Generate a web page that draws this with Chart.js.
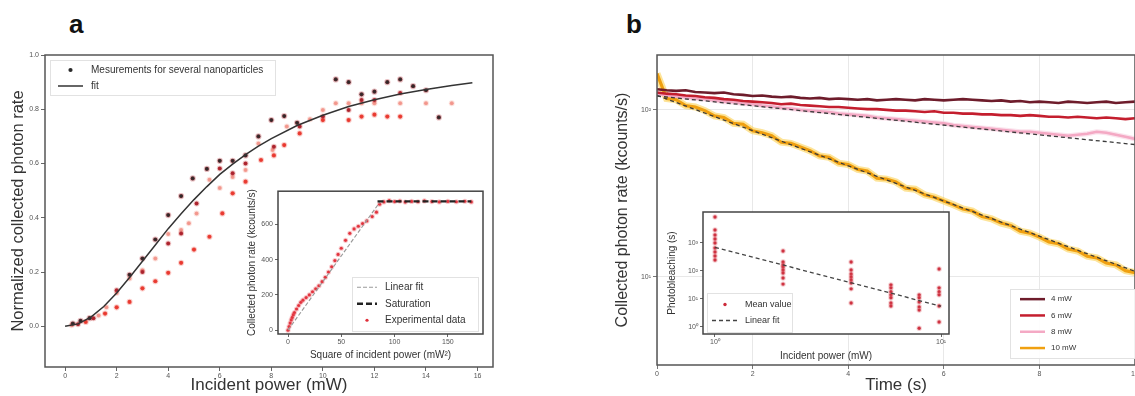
<!DOCTYPE html>
<html>
<head>
<meta charset="utf-8">
<script src="https://cdn.jsdelivr.net/npm/chart.js@4.4.0/dist/chart.umd.min.js"></script>
<style>
  html, body { margin: 0; padding: 0; background: #fff; overflow: hidden; width: 1135px; height: 396px; }
  canvas { position: absolute; }
  .panel { position: absolute; font: bold 26px "Liberation Sans", Arial, sans-serif; line-height: 26px; color: #111; }
</style>
</head>
<body>
<div class="panel" style="left:69px;top:11px">a</div>
<div class="panel" style="left:626px;top:11px">b</div>
<canvas id="mainA" style="left:0;top:0" width="560" height="396"></canvas>
<canvas id="insetA" style="left:240px;top:185px" width="250" height="180"></canvas>
<canvas id="mainB" style="left:600px;top:0" width="560" height="396"></canvas>
<canvas id="insetB" style="left:660px;top:205px" width="295" height="160"></canvas>
<script>
// ---- panel a: normalized rate vs incident power (one series per nanoparticle)
const blackX = [0.3, 0.6, 0.95, 2.5, 3.0, 3.5, 4.0, 4.5, 4.95, 5.5, 6.0, 6.5, 7.0, 7.5, 8.0, 8.5, 9.0, 10.5, 11.0, 11.5, 12.0, 12.5, 13.0, 13.5, 14.0, 14.5];
const blackY = [0.01, 0.02, 0.03, 0.19, 0.25, 0.32, 0.41, 0.48, 0.545, 0.58, 0.61, 0.61, 0.63, 0.70, 0.76, 0.775, 0.75, 0.91, 0.90, 0.855, 0.865, 0.90, 0.91, 0.885, 0.87, 0.77];
const darkX = [0.5, 1.1, 2.0, 3.0, 4.0, 4.5, 5.1, 6.0, 6.5, 7.0, 8.1, 9.1, 10.0, 11.0, 11.5, 12.0, 13.0];
const darkY = [0.008, 0.03, 0.133, 0.20, 0.305, 0.342, 0.453, 0.582, 0.564, 0.60, 0.662, 0.736, 0.773, 0.797, 0.834, 0.834, 0.86];
const redX = [0.8, 1.55, 2.0, 2.5, 3.0, 3.5, 4.0, 4.5, 5.0, 5.6, 6.1, 6.5, 7.0, 7.6, 8.1, 8.5, 9.1, 10.0, 11.0, 11.5, 12.0, 12.5, 13.0];
const redY = [0.016, 0.047, 0.07, 0.09, 0.14, 0.166, 0.197, 0.234, 0.283, 0.33, 0.416, 0.49, 0.533, 0.613, 0.63, 0.668, 0.711, 0.76, 0.76, 0.773, 0.78, 0.773, 0.773];
const pinkX = [0.25, 1.3, 1.6, 2.0, 2.5, 3.0, 3.5, 4.0, 4.5, 4.8, 5.1, 5.6, 6.0, 6.5, 7.0, 7.5, 8.05, 8.6, 9.5, 10.0, 10.5, 11.0, 11.5, 12.0, 13.0, 14.0, 15.0];
const pinkY = [0.004, 0.04, 0.07, 0.123, 0.176, 0.207, 0.25, 0.34, 0.355, 0.38, 0.416, 0.54, 0.51, 0.55, 0.576, 0.674, 0.65, 0.736, 0.763, 0.797, 0.822, 0.822, 0.822, 0.822, 0.822, 0.822, 0.822];
const fitX = [0, 0.5, 1, 1.5, 2, 2.5, 3, 3.5, 4, 4.5, 5, 5.5, 6, 6.5, 7, 7.5, 8, 9, 10, 11, 12, 13, 14, 15, 15.8];
const fitY = [0, 0.009, 0.034, 0.073, 0.123, 0.18, 0.24, 0.30, 0.36, 0.415, 0.467, 0.515, 0.56, 0.598, 0.633, 0.664, 0.692, 0.74, 0.778, 0.81, 0.835, 0.856, 0.873, 0.888, 0.898];
const powerTicks = [0, 2, 4, 6, 8, 10, 12, 14, 16];
const rateTicks = [0, 0.2, 0.4, 0.6, 0.8, 1.0];

// ---- inset a: rate vs squared power
const sqX = [0, 1, 2, 3, 4, 5, 6, 8, 10, 12, 14, 17, 20, 23, 26, 29, 32, 35, 38, 41, 44, 47, 50, 54, 58, 62, 66, 70, 74, 79, 83, 86,
             90, 95, 100, 105, 110, 116, 122, 128, 135, 142, 150, 158, 166, 172];
const sqY = [0, 20, 40, 58, 72, 88, 100, 120, 140, 158, 170, 185, 200, 218, 235, 252, 275, 300, 330, 360, 395, 430, 465, 510, 550, 575, 590, 605, 620, 645, 670, 715,
             728, 735, 730, 733, 727, 731, 729, 734, 730, 728, 731, 729, 732, 728];
const linFitX = [0, 86];
const linFitY = [0, 725];
const satX = [84, 172];
const satY = [731, 731];
const sqTicksX = [0, 50, 100, 150];
const sqTicksY = [0, 200, 400, 600];

// ---- panel b: photon rate vs time (kcounts/s)
const times = [0, 0.2, 0.4, 0.6, 0.8, 1, 1.2, 1.4, 1.6, 1.8, 2, 2.2, 2.4, 2.6, 2.8, 3, 3.2, 3.4, 3.6, 3.8, 4, 4.2, 4.4, 4.6, 4.8, 5,
               5.2, 5.4, 5.6, 5.8, 6, 6.2, 6.4, 6.6, 6.8, 7, 7.2, 7.4, 7.6, 7.8, 8, 8.2, 8.4, 8.6, 8.8, 9, 9.2, 9.4, 9.6, 9.8, 10];
const mw4 = [133, 131, 130, 131, 128, 127, 126, 127, 124, 123, 121, 122, 120, 119, 120, 118, 117, 118, 116, 117, 116, 115, 116, 114, 115, 116,
             115, 114, 116, 115, 114, 115, 116, 115, 114, 113, 114, 112, 113, 111, 112, 111, 110, 112, 111, 110, 111, 112, 110, 111, 112];
const mw6 = [127, 125, 124, 122, 121, 119, 118, 116, 115, 113, 112, 111, 110, 108, 109, 107, 106, 105, 104, 104, 103, 102, 101, 101, 100, 99,
             99, 98, 97, 98, 96, 96, 95, 95, 94, 94, 93, 93, 92, 93, 92, 91, 91, 90, 91, 90, 89, 90, 89, 88, 89];
const mw8 = [125, 122, 120, 119, 117, 116, 114, 112, 111, 109, 108, 106, 105, 103, 102, 100, 99, 98, 97, 95, 94, 93, 92, 90, 89, 88,
             87, 86, 85, 84, 83, 81, 80, 79, 78, 77, 76, 75, 74, 74, 73, 72, 71, 70, 71, 72, 74, 73, 71, 69, 67];
const mw10 = [165, 117, 115, 106, 104, 99, 92, 90, 83, 82, 75, 73, 70, 64, 63, 60, 57, 53, 52, 48, 47, 44, 43, 39, 38.5, 37,
              34, 33.5, 31, 30, 28.5, 27, 25.5, 24.8, 23, 22.3, 21, 20.3, 18.8, 18.3, 17.3, 16.2, 15.8, 14.7, 14.3, 13.3, 13.0, 12.1, 11.8, 10.9, 10.6];
const fitEndsT = [0, 10];
const fit8 = [121, 62];
const fit10 = [122, 10.8];
const timeTicks = [0, 2, 4, 6, 8, 10];
const photonTicks = [10, 100];

// ---- inset b: photobleaching time vs power (log-log)
const bleachP = [1, 1, 1, 1, 1, 1, 1, 1, 1,
                 2, 2, 2, 2, 2, 2, 2, 2,
                 4, 4, 4, 4, 4, 4, 4, 4,
                 6, 6, 6, 6, 6, 6, 6,
                 8, 8, 8, 8, 8, 8,
                 9.8, 9.8, 9.8, 9.8, 9.8, 9.8];
const bleachT = [8500, 2900, 1930, 1390, 1000, 660, 477, 343, 247,
                 518, 210, 164, 139, 109, 85, 56, 34,
                 210, 109, 78, 61, 48, 37, 23, 7.2,
                 32, 25, 18, 14, 11, 7.2, 5.6,
                 14, 11, 7.8, 5.2, 4.0, 0.9,
                 118, 25, 18, 14, 5.6, 1.5];
const bleachFitP = [1, 10];
const bleachFitT = [700, 5.5];
const bleachTicksX = [1, 10];
const bleachTicksY = [1, 10, 100, 1000];

const FONT = '"Liberation Sans", Arial, sans-serif';
Chart.defaults.font.family = FONT;
Chart.defaults.animation = false;
Chart.defaults.responsive = false;
Chart.defaults.plugins.legend.display = false;
Chart.defaults.plugins.tooltip.enabled = false;

const SUP = {'0': '\u2070', '1': '\u00b9', '2': '\u00b2', '3': '\u00b3', '4': '\u2074'};
const pow10 = v => '10' + SUP[String(Math.round(Math.log10(v)))];
const pts = (xs, ys) => xs.map((x, i) => ({x: x, y: ys[i]}));
const fixed = vals => scale => { scale.ticks = vals.map(v => ({value: v})); };

// frame around plot area (+ white fill for insets)
const frame = {
  id: 'frame',
  beforeDraw(chart, args, o) {
    if (!o.fill) return;
    const a = chart.chartArea, ctx = chart.ctx;
    ctx.save();
    ctx.fillStyle = o.fill;
    ctx.fillRect(a.left, a.top, a.width, a.height);
    ctx.restore();
  },
  afterDraw(chart, args, o) {
    const a = chart.chartArea, ctx = chart.ctx;
    ctx.save();
    ctx.strokeStyle = o.color || '#555';
    ctx.lineWidth = o.width || 1.5;
    ctx.strokeRect(a.left, a.top, a.width, a.height);
    ctx.restore();
  }
};

// boxed legend drawn from the datasets' own styles
const boxLegend = {
  id: 'boxLegend',
  afterDraw(chart, args, o) {
    if (!o.items) return;
    const a = chart.chartArea, ctx = chart.ctx;
    const x0 = o.right != null ? a.right - o.right - o.w : a.left + o.left;
    const y0 = o.bottom != null ? a.bottom - o.bottom - o.h : a.top + o.top;
    ctx.save();
    ctx.fillStyle = 'rgba(255,255,255,0.9)';
    ctx.fillRect(x0, y0, o.w, o.h);
    ctx.strokeStyle = '#e2e2e2';
    ctx.lineWidth = 1;
    ctx.strokeRect(x0 + 0.5, y0 + 0.5, o.w, o.h);
    ctx.font = o.size + 'px ' + FONT;
    ctx.textBaseline = 'middle';
    o.items.forEach((idx, i) => {
      const ds = chart.data.datasets[idx];
      const y = y0 + o.padY + o.row * (i + 0.5);
      const lx = x0 + o.padX;
      if (ds.showLine) {
        ctx.strokeStyle = ds.borderColor;
        ctx.lineWidth = Math.min(ds.borderWidth, 2.5);
        ctx.setLineDash(ds.borderDash || []);
        ctx.beginPath();
        ctx.moveTo(lx, y);
        ctx.lineTo(lx + o.line, y);
        ctx.stroke();
        ctx.setLineDash([]);
      } else {
        ctx.fillStyle = ds.backgroundColor;
        ctx.beginPath();
        ctx.arc(lx + o.line / 2, y, ds.pointRadius, 0, Math.PI * 2);
        ctx.fill();
      }
      ctx.fillStyle = '#333';
      ctx.fillText(ds.label, lx + o.line + o.gap, y);
    });
    ctx.restore();
  }
};

const dots = (label, data, color, halo, r) => ({
  label: label, data: data, showLine: false,
  backgroundColor: color, borderColor: halo, borderWidth: 2, pointRadius: r, pointStyle: 'circle'
});
const tickFont = {size: 7};
const axisGrid = {drawOnChartArea: false, tickLength: 4, tickColor: '#666'};

// ---------- panel a
new Chart(document.getElementById('mainA'), {
  type: 'scatter',
  data: {
    datasets: [
      dots('Mesurements for several nanoparticles', pts(blackX, blackY), '#2a2a2a', 'rgba(180,40,50,0.3)', 2.1),
      {label: 'fit', data: pts(fitX, fitY), showLine: true, pointRadius: 0, borderColor: '#333', borderWidth: 1.5, order: -1},
      dots('np2', pts(darkX, darkY), '#a8222e', 'rgba(200,60,60,0.28)', 2.0),
      dots('np3', pts(redX, redY), '#e8382f', 'rgba(240,90,80,0.28)', 2.1),
      dots('np4', pts(pinkX, pinkY), '#f2958c', 'rgba(245,170,160,0.32)', 2.0)
    ]
  },
  options: {
    layout: {padding: {left: 0, top: 55, right: 67, bottom: 0}},
    scales: {
      x: {
        type: 'linear', min: -0.78, max: 16.6,
        afterBuildTicks: fixed(powerTicks), afterFit: s => { s.height = 29; },
        grid: axisGrid, border: {display: false},
        ticks: {font: tickFont, color: '#555', padding: 1, maxRotation: 0},
        title: {display: true, text: 'Incident power (mW)', font: {size: 17}, color: '#333', padding: {top: 0, bottom: 0}}
      },
      y: {
        type: 'linear', min: -0.15, max: 1.0,
        afterBuildTicks: fixed(rateTicks), afterFit: s => { s.width = 45; },
        grid: axisGrid, border: {display: false},
        ticks: {font: tickFont, color: '#555', padding: 2, callback: v => v.toFixed(1)},
        title: {display: true, text: 'Normalized collected photon rate', font: {size: 16.5}, color: '#333', padding: {top: 9, bottom: 0}}
      }
    },
    plugins: {
      frame: {color: '#555', width: 1.5},
      boxLegend: {items: [0, 1], left: 5, top: 5, w: 225, h: 35, padX: 8, padY: 2, row: 16, line: 25, gap: 8, size: 10}
    }
  },
  plugins: [frame, boxLegend]
});

new Chart(document.getElementById('insetA'), {
  type: 'scatter',
  data: {
    datasets: [
      {label: 'Linear fit', data: pts(linFitX, linFitY), showLine: true, pointRadius: 0, borderColor: '#9a9a9a', borderWidth: 1.2, borderDash: [4, 2], order: -1},
      {label: 'Saturation', data: pts(satX, satY), showLine: true, pointRadius: 0, borderColor: '#222', borderWidth: 2.4, borderDash: [6, 3], order: -2},
      dots('Experimental data', pts(sqX, sqY), '#e0303a', 'rgba(235,80,90,0.3)', 1.6)
    ]
  },
  options: {
    layout: {padding: {left: 0, top: 5, right: 7, bottom: 0}},
    scales: {
      x: {
        type: 'linear', min: -9.4, max: 183,
        afterBuildTicks: fixed(sqTicksX), afterFit: s => { s.height = 31; },
        grid: {drawOnChartArea: false, tickLength: 3, tickColor: '#666'}, border: {display: false},
        ticks: {font: tickFont, color: '#555', padding: 1, maxRotation: 0},
        title: {display: true, text: 'Square of incident power (mW\u00b2)', font: {size: 10}, color: '#333', padding: {top: 0, bottom: 4}}
      },
      y: {
        type: 'linear', min: -22, max: 789,
        afterBuildTicks: fixed(sqTicksY), afterFit: s => { s.width = 38; },
        grid: {drawOnChartArea: false, tickLength: 3, tickColor: '#666'}, border: {display: false},
        ticks: {font: tickFont, color: '#555', padding: 2},
        title: {display: true, text: 'Collected photon rate (kcounts/s)', font: {size: 10}, color: '#333', padding: {top: 6, bottom: 0}}
      }
    },
    plugins: {
      frame: {color: '#444', width: 1.5, fill: '#fff'},
      boxLegend: {items: [0, 1, 2], right: 5, bottom: 3, w: 126, h: 54, padX: 5, padY: 2, row: 16.5, line: 20, gap: 8, size: 10}
    }
  },
  plugins: [frame, boxLegend]
});

// ---------- panel b
const trace = (label, ys, color, w, order) => ({
  label: label, data: pts(times, ys), showLine: true, pointRadius: 0,
  borderColor: color, borderWidth: w, order: order
});
const glow = (ys, color, w) => ({
  label: 'glow', data: pts(times, ys), showLine: true, pointRadius: 0,
  borderColor: color, borderWidth: w, order: 9
});
const fitLine = (ys) => ({
  label: 'fit', data: pts(fitEndsT, ys), showLine: true, pointRadius: 0,
  borderColor: '#3a3a3a', borderWidth: 1.3, borderDash: [4, 3], order: 0
});

new Chart(document.getElementById('mainB'), {
  type: 'scatter',
  data: {
    datasets: [
      trace('4 mW', mw4, '#6e1c2b', 2.6, 2),
      trace('6 mW', mw6, '#c41e2e', 2.6, 3),
      trace('8 mW', mw8, '#f4a9c4', 2.6, 4),
      trace('10 mW', mw10, '#f0a010', 3.2, 5),
      fitLine(fit8),
      fitLine(fit10),
      glow(mw10, 'rgba(252,205,70,0.55)', 7),
      glow(mw8, 'rgba(248,200,220,0.5)', 5)
    ]
  },
  options: {
    layout: {padding: {left: 0, top: 55, right: 25, bottom: 0}},
    scales: {
      x: {
        type: 'linear', min: 0, max: 10,
        afterBuildTicks: fixed(timeTicks), afterFit: s => { s.height = 31; },
        grid: {color: '#e8e8e8', tickLength: 4, tickColor: '#777'}, border: {display: false},
        ticks: {font: tickFont, color: '#555', padding: 1, maxRotation: 0},
        title: {display: true, text: 'Time (s)', font: {size: 17}, color: '#333', padding: {top: 0, bottom: 0}}
      },
      y: {
        type: 'logarithmic', min: 2.97, max: 213,
        afterBuildTicks: fixed(photonTicks), afterFit: s => { s.width = 57; },
        grid: {color: '#e8e8e8', tickLength: 4, tickColor: '#777'}, border: {display: false},
        ticks: {font: tickFont, color: '#555', padding: 2, callback: v => pow10(v)},
        title: {display: true, text: 'Collected photon rate (kcounts/s)', font: {size: 16}, color: '#333', padding: {top: 13, bottom: 0}}
      }
    },
    plugins: {
      frame: {color: '#555', width: 1.5},
      boxLegend: {items: [0, 1, 2, 3], right: 0, bottom: 7, w: 125, h: 69, padX: 10, padY: 2, row: 16.3, line: 25, gap: 6, size: 8}
    }
  },
  plugins: [frame, boxLegend]
});

new Chart(document.getElementById('insetB'), {
  type: 'scatter',
  data: {
    datasets: [
      dots('Mean value', pts(bleachP, bleachT), '#cc2a3a', 'rgba(220,90,100,0.3)', 1.7),
      {label: 'Linear fit', data: pts(bleachFitP, bleachFitT), showLine: true, pointRadius: 0, borderColor: '#444', borderWidth: 1.3, borderDash: [4, 3], order: -1}
    ]
  },
  options: {
    layout: {padding: {left: 0, top: 7, right: 5, bottom: 0}},
    scales: {
      x: {
        type: 'logarithmic', min: 0.885, max: 10.84,
        afterBuildTicks: fixed(bleachTicksX), afterFit: s => { s.height = 31; },
        grid: {drawOnChartArea: false, tickLength: 3, tickColor: '#666'}, border: {display: false},
        ticks: {font: tickFont, color: '#555', padding: 1, maxRotation: 0, callback: v => pow10(v)},
        title: {display: true, text: 'Incident power (mW)', font: {size: 10}, color: '#333', padding: {top: 0, bottom: 3}}
      },
      y: {
        type: 'logarithmic', min: 0.56, max: 12800,
        afterBuildTicks: fixed(bleachTicksY), afterFit: s => { s.width = 43; },
        grid: {drawOnChartArea: false, tickLength: 3, tickColor: '#666'}, border: {display: false},
        ticks: {font: tickFont, color: '#555', padding: 2, callback: v => pow10(v)},
        title: {display: true, text: 'Photobleaching (s)', font: {size: 10}, color: '#333', padding: {top: 6, bottom: 0}}
      }
    },
    plugins: {
      frame: {color: '#444', width: 1.5, fill: '#fff'},
      boxLegend: {items: [0, 1], left: 4, bottom: 2, w: 85, h: 39, padX: 5, padY: 3.5, row: 16, line: 26, gap: 7, size: 9}
    }
  },
  plugins: [frame, boxLegend]
});
</script>
</body>
</html>
